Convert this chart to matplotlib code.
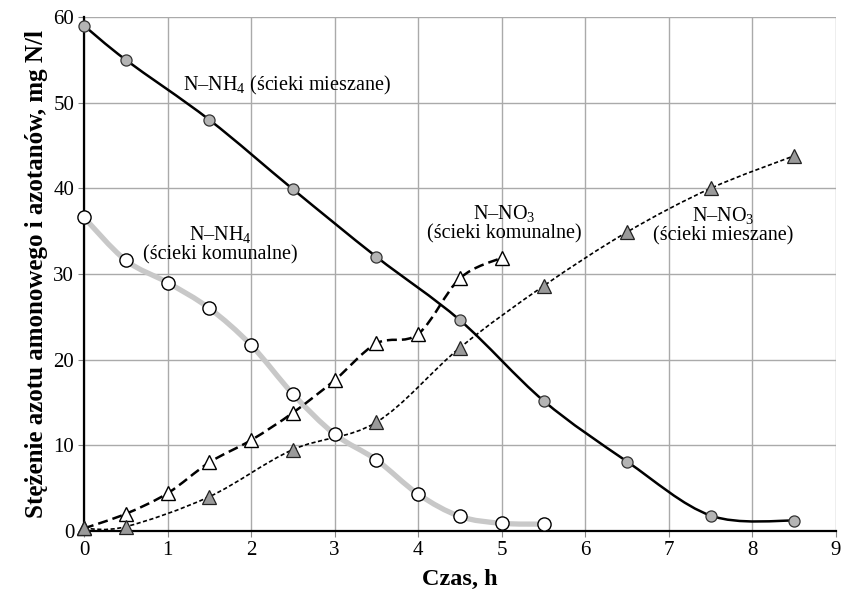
import matplotlib
matplotlib.use("Agg")
import matplotlib.pyplot as plt
from matplotlib.path import Path
from matplotlib.patches import PathPatch
import numpy as np

plt.rcParams['font.family'] = ['Liberation Serif', 'DejaVu Serif']
plt.rcParams['mathtext.fontset'] = 'custom'
plt.rcParams['mathtext.rm'] = 'Liberation Serif'

# Data
t_mix_nh4 = [0, 0.5, 1.5, 2.5, 3.5, 4.5, 5.5, 6.5, 7.5, 8.5]
mix_nh4 = [59.0, 55.0, 48.0, 39.9, 32.0, 24.6, 15.2, 8.1, 1.8, 1.2]

t_kom_nh4 = [0, 0.5, 1, 1.5, 2, 2.5, 3, 3.5, 4, 4.5, 5, 5.5]
kom_nh4 = [36.6, 31.6, 29.0, 26.0, 21.7, 16.0, 11.3, 8.3, 4.3, 1.7, 0.9, 0.8]

t_kom_no3 = [0, 0.5, 1, 1.5, 2, 2.5, 3, 3.5, 4, 4.5, 5]
kom_no3 = [0.3, 2.0, 4.4, 8.0, 10.6, 13.8, 17.6, 21.9, 23.0, 29.5, 31.9]

t_mix_no3 = [0, 0.5, 1.5, 2.5, 3.5, 4.5, 5.5, 6.5, 7.5, 8.5]
mix_no3 = [0.3, 0.5, 4.0, 9.5, 12.7, 21.4, 28.6, 34.9, 40.0, 43.8]

xticks = list(range(0, 10))
yticks = [0, 10, 20, 30, 40, 50, 60]


def smooth_path(x, y):
    p = np.column_stack([x, y]).astype(float)
    n = len(p)
    verts = [p[0]]
    codes = [Path.MOVETO]
    for i in range(n - 1):
        p0 = p[i - 1] if i > 0 else p[i]
        p1 = p[i]
        p2 = p[i + 1]
        p3 = p[i + 2] if i + 2 < n else p[i + 1]
        c1 = p1 + (p2 - p0) / 6.0
        c2 = p2 - (p3 - p1) / 6.0
        verts += [c1, c2, p2]
        codes += [Path.CURVE4] * 3
    return Path(verts, codes)


fig = plt.figure(figsize=(8.43, 5.97), dpi=100)
ax = fig.add_axes([0.0996, 0.1106, 0.8921, 0.8609])
ax.set_xlim(0, 9)
ax.set_ylim(0, 60)
ax.set_xticks(xticks)
ax.set_yticks(yticks)
ax.grid(True, color='#aaaaaa', linewidth=1.0)
ax.set_axisbelow(True)
for s in ['top', 'right']:
    ax.spines[s].set_visible(False)
for s in ['left', 'bottom']:
    ax.spines[s].set_color('black')
    ax.spines[s].set_linewidth(1.6)
ax.tick_params(axis='both', labelsize=15, length=4, color='#888888', pad=3)

# communal NH4: thick light grey line, white circles
ax.add_patch(PathPatch(smooth_path(t_kom_nh4, kom_nh4), transform=ax.transData,
                       facecolor='none', edgecolor='#c8c8c8', linewidth=3.8,
                       capstyle='round', zorder=2))
ax.plot(t_kom_nh4, kom_nh4, linestyle='none', marker='o', ms=9.5,
        mfc='white', mec='black', mew=1.0, zorder=5, clip_on=False)

# mixed NH4: solid black line, grey circles
ax.add_patch(PathPatch(smooth_path(t_mix_nh4, mix_nh4), transform=ax.transData,
                       facecolor='none', edgecolor='black', linewidth=1.8, zorder=3))
ax.plot(t_mix_nh4, mix_nh4, linestyle='none', marker='o', ms=8,
        mfc='#b4b4b4', mec='#333333', mew=0.9, zorder=5, clip_on=False)

# communal NO3: dashed, white triangles
ax.add_patch(PathPatch(smooth_path(t_kom_no3, kom_no3), transform=ax.transData,
                       facecolor='none', edgecolor='black', linewidth=1.8,
                       linestyle=(0, (4, 2)), zorder=3))
ax.plot(t_kom_no3, kom_no3, linestyle='none', marker='^', ms=10,
        mfc='white', mec='black', mew=1.0, zorder=5, clip_on=False)

# mixed NO3: fine dotted, grey triangles
ax.add_patch(PathPatch(smooth_path(t_mix_no3, mix_no3), transform=ax.transData,
                       facecolor='none', edgecolor='black', linewidth=1.2,
                       linestyle=(0, (2.5, 1.5)), zorder=3))
ax.plot(t_mix_no3, mix_no3, linestyle='none', marker='^', ms=10,
        mfc='#9a9a9a', mec='#222222', mew=0.9, zorder=5, clip_on=False)

# annotations
afs = 14.5
ax.text(2.43, 52.0, 'N–NH$_\\mathregular{4}$ (ścieki mieszane)', fontsize=afs,
        ha='center', va='center')
ax.text(1.63, 33.4, 'N–NH$_\\mathregular{4}$\n(ścieki komunalne)', fontsize=afs,
        ha='center', va='center', linespacing=0.95)
ax.text(5.03, 35.9, 'N–NO$_\\mathregular{3}$\n(ścieki komunalne)', fontsize=afs,
        ha='center', va='center', linespacing=0.95)
ax.text(7.65, 35.6, 'N–NO$_\\mathregular{3}$\n(ścieki mieszane)', fontsize=afs,
        ha='center', va='center', linespacing=0.95)

ax.set_xlabel('Czas, h', fontsize=17.5, fontweight='bold', labelpad=7)
ax.set_ylabel('Stężenie azotu amonowego i azotanów, mg N/l', fontsize=18,
              fontweight='bold', labelpad=4)

fig.savefig('out.png', dpi=100)
